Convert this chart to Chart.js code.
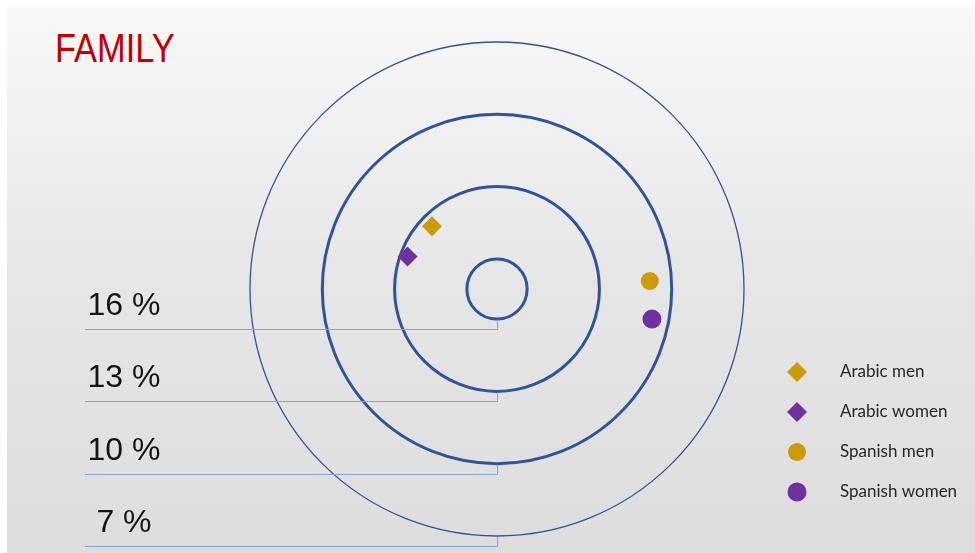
<!DOCTYPE html>
<html>
<head>
<meta charset="utf-8">
<script src="https://cdn.jsdelivr.net/npm/chart.js@4/dist/chart.umd.min.js"></script>
<style>
  html, body { margin: 0; padding: 0; background: #fff; }
  body { width: 975px; height: 553px; position: relative; overflow: hidden; }
  .slide {
    position: absolute; left: 7px; top: 7px; right: 0; bottom: 0;
    background: linear-gradient(to bottom, #f8f8f8 0%, #e6e6e6 50%, #dddddd 100%);
  }
  .title {
    position: absolute; left: 55px; top: 28px;
    font: 40px/40px "Liberation Sans", Arial, sans-serif;
    color: #c00000; transform: scaleX(0.86); transform-origin: left top;
    white-space: nowrap;
  }
  #chart { position: absolute; left: 0; top: 0; }
</style>
</head>
<body>
<div class="slide"></div>
<div class="title">FAMILY</div>
<canvas id="chart" width="975" height="553"></canvas>
<script>
(function () {
  "use strict";

  // rings of the target, innermost first, with their captions
  const ringValues = [16, 13, 10, 7];
  const ringLabels = ["16 %", "13 %", "10 %", "7 %"];

  // one point per group: value in % and direction (degrees, clockwise from top)
  const seriesNames = ["Arabic men", "Arabic women", "Spanish men", "Spanish women"];
  const seriesValues = [13.5, 13.3, 10.9, 10.7];
  const seriesAngles = [314, 290, 87, 101];

  const seriesColors = ["#cc9a06", "#7030a0", "#cc9a06", "#7030a0"];
  const seriesStyles = ["rectRot", "rectRot", "circle", "circle"];
  const seriesRadius = [10, 10, 9, 9.5];

  // one radar spoke per degree so the points can sit at any angle
  const angleLabels = Array.from({ length: 360 }, () => "");

  const datasets = seriesNames.map((name, i) => {
    const data = angleLabels.map(() => null);
    data[seriesAngles[i]] = seriesValues[i];
    return {
      label: name,
      data: data,
      showLine: false,
      fill: false,
      pointStyle: seriesStyles[i],
      pointRadius: seriesRadius[i],
      pointHoverRadius: seriesRadius[i],
      pointBackgroundColor: seriesColors[i],
      pointBorderWidth: 0,
      borderColor: seriesColors[i],
    };
  });

  // leader lines from each ring down to its caption on the left
  const ringCaptions = {
    id: "ringCaptions",
    beforeDatasetsDraw(chart) {
      const scale = chart.scales.r;
      const ctx = chart.ctx;
      ctx.save();
      ringValues.forEach((v, i) => {
        const r = scale.getDistanceFromCenterForValue(v);
        const yEdge = scale.yCenter + r;
        const y = Math.round(yEdge + 10) + 0.5;
        ctx.strokeStyle = "#8aa2d0";
        ctx.lineWidth = 1;
        ctx.beginPath();
        ctx.moveTo(scale.xCenter + 0.5, yEdge + 1);
        ctx.lineTo(scale.xCenter + 0.5, y);
        ctx.lineTo(85, y);
        ctx.stroke();

        ctx.fillStyle = "#141414";
        ctx.font = '32px "Liberation Sans", Arial, sans-serif';
        ctx.textAlign = "center";
        ctx.textBaseline = "alphabetic";
        ctx.fillText(ringLabels[i], 124, y - 15);
      });
      ctx.restore();
    },
  };

  // vertical legend on the right
  const sideLegend = {
    id: "sideLegend",
    afterDraw(chart) {
      const ctx = chart.ctx;
      ctx.save();
      chart.data.datasets.forEach((ds, i) => {
        const y = 372 + i * 40;
        ctx.fillStyle = ds.pointBackgroundColor;
        Chart.helpers.drawPoint(ctx, {
          pointStyle: ds.pointStyle,
          radius: ds.pointRadius,
          rotation: 0,
          borderWidth: 0,
        }, 797, y);
        ctx.fillStyle = "#262626";
        ctx.font = '17px Lato, "Open Sans", sans-serif';
        ctx.textAlign = "left";
        ctx.textBaseline = "middle";
        ctx.fillText(ds.label, 840, y);
      });
      ctx.restore();
    },
  };

  new Chart(document.getElementById("chart"), {
    type: "radar",
    data: { labels: angleLabels, datasets: datasets },
    plugins: [ringCaptions, sideLegend],
    options: {
      responsive: false,
      animation: false,
      events: [],
      layout: { padding: { left: 250, top: 42, right: 231, bottom: 17 } },
      plugins: {
        legend: { display: false },
        tooltip: { enabled: false },
      },
      scales: {
        r: {
          reverse: true,
          min: 7,
          max: 17.25,
          startAngle: 0,
          angleLines: { display: false },
          pointLabels: { display: false },
          ticks: { display: false },
          grid: {
            circular: true,
            color: "#2f5597",
            lineWidth: (c) => (c.tick && c.tick.value === 7 ? 1.3 : 3),
          },
          afterBuildTicks: (scale) => {
            // center value first: the library skips the first tick's circle
            scale.ticks = [scale.max].concat(ringValues).map((v) => ({ value: v }));
          },
        },
      },
    },
  });
})();
</script>
</body>
</html>
